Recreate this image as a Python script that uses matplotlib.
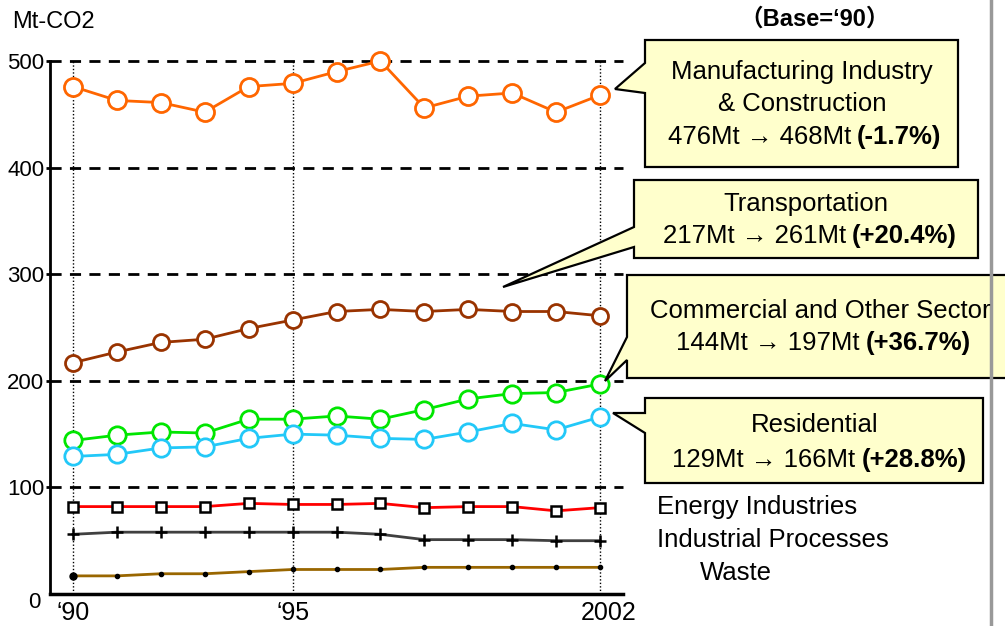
import matplotlib
matplotlib.use("Agg")
import matplotlib.pyplot as plt
from matplotlib.patches import Polygon
import numpy as np

# -- DADOS --
years = np.arange(1990, 2003)
manufacturing = [476, 463, 461, 452, 476, 479, 490, 500, 456, 467, 470, 452, 468]
transport = [217, 227, 236, 239, 249, 257, 265, 267, 265, 267, 265, 265, 261]
commercial = [144, 149, 152, 151, 164, 164, 167, 164, 173, 183, 188, 189, 197]
residential = [129, 131, 137, 138, 146, 150, 149, 146, 145, 152, 160, 154, 166]
energy = [82, 82, 82, 82, 85, 84, 84, 85, 81, 82, 82, 78, 81]
processes = [56, 58, 58, 58, 58, 58, 58, 56, 51, 51, 51, 50, 50]
waste = [17, 17, 19, 19, 21, 23, 23, 23, 25, 25, 25, 25, 25]

y_ticks = [100, 200, 300, 400, 500]
x_labels = {1990: "\u201890", 1995: "\u201895", 2002.2: "2002"}

plt.rcParams['font.family'] = ['Liberation Sans', 'DejaVu Sans', 'Noto Sans CJK JP']

W, H = 1005, 626
fig = plt.figure(figsize=(W / 100, H / 100), dpi=100)

# -- EIXO PRINCIPAL --
ax = fig.add_axes([50 / W, (H - 594) / H, 573 / W, 533 / H])
px = 43.92
ax.set_xlim(1990 - 23 / px, 2002 + 23 / px)
ax.set_ylim(0, 500)
for s in ['top', 'right']:
    ax.spines[s].set_visible(False)
ax.spines['left'].set_linewidth(2)
ax.spines['bottom'].set_linewidth(2.5)
ax.set_xticks([])
ax.set_yticks(y_ticks)
ax.set_yticklabels([str(v) for v in y_ticks], fontsize=16)
ax.tick_params(axis='y', length=3, width=2, pad=1)

for v in y_ticks:
    ax.axhline(v, color='black', lw=2, ls=(0, (4, 3)), zorder=1, clip_on=False)
for yr in [1990, 1995, 2002]:
    ax.plot([yr, yr], [0, 500], color='black', lw=1, ls=(0, (1, 1.5)), zorder=1)

ax.text(1990 - 23 / px - 10 / px, -9 / 1.066, "0", fontsize=16, ha='right', va='center')
for xv, lab in x_labels.items():
    ax.text(xv, -18, lab, fontsize=18, ha='center', va='center', clip_on=False)

circ = dict(marker='o', markerfacecolor='white', markeredgewidth=2, lw=2, clip_on=False)
ax.plot(years, manufacturing, color='#FF6600', markersize=13, zorder=5, **circ)
ax.plot(years, transport, color='#993300', markersize=11.5, zorder=5, **circ)
ax.plot(years, commercial, color='#00E600', markersize=12.5, zorder=5, **circ)
ax.plot(years, residential, color='#22C8F8', markersize=12.5, zorder=5, **circ)
ax.plot(years, energy, color='#FF0000', lw=2, marker='s', markersize=6.5,
        markerfacecolor='white', markeredgecolor='black', markeredgewidth=1.8, zorder=5)
ax.plot(years, processes, color='#404040', lw=2, marker='+', markersize=8,
        markeredgecolor='black', markeredgewidth=1.8, zorder=5)
ax.plot(years, waste, color='#996600', lw=2, marker='o', markersize=3,
        markerfacecolor='black', markeredgecolor='black', zorder=5)
ax.plot(years[:1], waste[:1], 'o', color='black', markersize=5, zorder=6)

# -- SOBREPOSIÇÃO (coordenadas em pixels) --
ov = fig.add_axes([0, 0, 1, 1], zorder=10)
ov.set_xlim(0, W); ov.set_ylim(H, 0); ov.axis('off')
ov.patch.set_alpha(0)

ov.plot([991, 991], [0, H], color='#999999', lw=2.5)

ov.text(12, 22, "Mt-CO2", fontsize=17, ha='left', va='center')
ov.text(815, 19, "\uff08Base=\u201890\uff09", fontsize=17, fontweight='bold', ha='center', va='center')

callouts = [
    [(645, 40), (958, 40), (958, 167), (645, 167), (645, 93), (615, 89), (645, 63)],
    [(634, 180), (978, 180), (978, 258), (634, 258), (634, 247), (503, 287), (634, 227)],
    [(627, 275), (1015, 275), (1015, 378), (627, 378), (627, 360), (605, 381), (627, 337)],
    [(645, 398), (983, 398), (983, 483), (645, 483), (645, 433), (613, 413), (645, 413)],
]
for pts in callouts:
    ov.add_patch(Polygon(pts, closed=True, facecolor='#FFFFCC', edgecolor='black', lw=1.6))

fs = 18.5
ov.text(802, 72, "Manufacturing Industry", fontsize=fs, ha='center', va='center')
ov.text(802, 104, "& Construction", fontsize=fs, ha='center', va='center')
ov.text(851, 137, "476Mt \u2192 468Mt", fontsize=fs, ha='right', va='center')
ov.text(857, 137, "(-1.7%)", fontsize=fs, fontweight='bold', ha='left', va='center')

ov.text(806, 204, "Transportation", fontsize=fs, ha='center', va='center')
ov.text(846, 236, "217Mt \u2192 261Mt", fontsize=fs, ha='right', va='center')
ov.text(852, 236, "(+20.4%)", fontsize=fs, fontweight='bold', ha='left', va='center')

ov.text(820, 311, "Commercial and Other Sector", fontsize=fs, ha='center', va='center')
ov.text(859, 343, "144Mt \u2192 197Mt", fontsize=fs, ha='right', va='center')
ov.text(866, 343, "(+36.7%)", fontsize=fs, fontweight='bold', ha='left', va='center')

ov.text(815, 425, "Residential", fontsize=fs, ha='center', va='center')
ov.text(855, 460, "129Mt \u2192 166Mt", fontsize=fs, ha='right', va='center')
ov.text(862, 460, "(+28.8%)", fontsize=fs, fontweight='bold', ha='left', va='center')

ov.text(657, 507, "Energy Industries", fontsize=fs, ha='left', va='center')
ov.text(657, 540, "Industrial Processes", fontsize=fs, ha='left', va='center')
ov.text(700, 573, "Waste", fontsize=fs, ha='left', va='center')

plt.savefig("out.png", dpi=100)
